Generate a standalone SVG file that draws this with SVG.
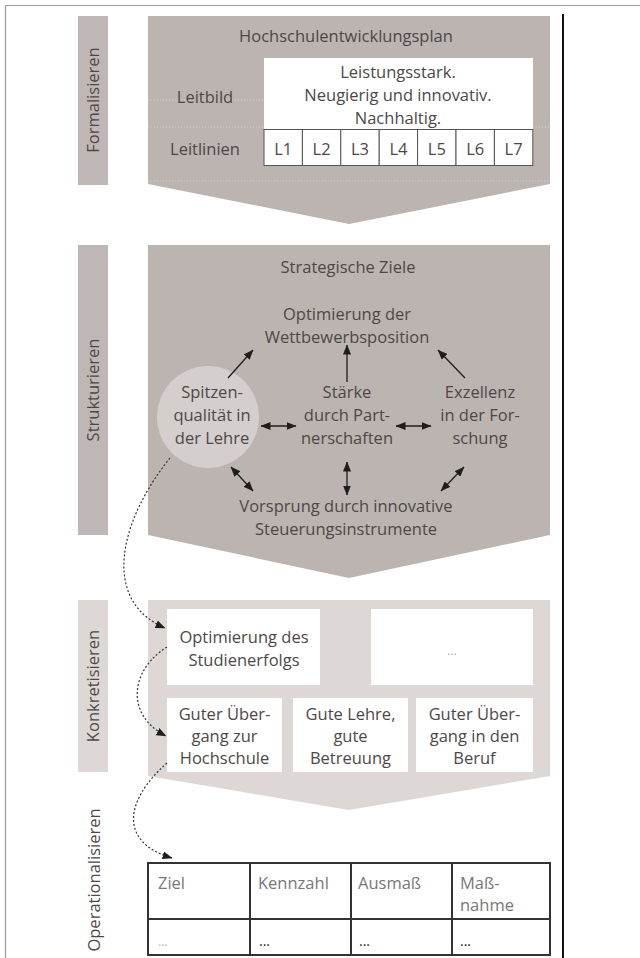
<svg xmlns="http://www.w3.org/2000/svg" width="640" height="958" viewBox="0 0 640 958">
<defs>
<marker id="ah" viewBox="0 0 10 8" refX="9.5" refY="4" markerWidth="10" markerHeight="8" markerUnits="userSpaceOnUse" orient="auto-start-reverse"><path d="M0,0 L10,4 L0,8 z" fill="#1e1e1e"/></marker>
</defs>
<style>
text{font-family:"Open Sans","Noto Sans","DejaVu Sans",sans-serif;font-size:16.5px;fill:#4d4848}
.c{text-anchor:middle}
.bar{fill:#bfb7b5}
.chev{fill:#bcb4b1}
.light{fill:#ddd8d6}
.box{fill:#fff}
.lbox{fill:#fff;stroke:#555;stroke-width:1}
.arr{stroke:#1e1e1e;stroke-width:1.3;fill:none}
.dot{stroke:#333;stroke-width:1.2;fill:none;stroke-dasharray:2 2}
.grid{stroke:#d6d0ce;stroke-width:1;stroke-dasharray:1 2;fill:none}
.tbl{stroke:#333;stroke-width:2;fill:none}
.th{fill:#7a7676}
</style>
<g id="frame">
<path d="M5.5,958 V5.5 H640" fill="none" stroke="#9a9a9a" stroke-width="1.2"/>
<line x1="563" y1="14" x2="563" y2="958" stroke="#111" stroke-width="2"/>
</g>
<g id="label-formalisieren">
<rect class="bar" x="78" y="16" width="30" height="169"/>
<text class="c" transform="translate(99,100) rotate(-90)">Formalisieren</text>
</g>
<g id="hochschulentwicklungsplan">
<path class="chev" d="M148,16 H550 V184 L349,224 L148,184 Z"/>
<path class="grid" d="M148,100 H264 M148,127 H264 M533,127 H550 M148,181 H550"/>
<text class="c" x="346" y="42">Hochschulentwicklungsplan</text>
<text class="c" x="205" y="103">Leitbild</text>
<text class="c" x="205" y="155">Leitlinien</text>
</g>
<g id="leitbild">
<rect class="box" x="264" y="58" width="269" height="71"/>
<text class="c" x="398" y="78">Leistungsstark.</text>
<text class="c" x="398" y="101">Neugierig und innovativ.</text>
<text class="c" x="398" y="124">Nachhaltig.</text>
</g>
<g id="leitlinien">
<rect class="lbox" x="264" y="129.5" width="38.4" height="36"/>
<rect class="lbox" x="302.4" y="129.5" width="38.4" height="36"/>
<rect class="lbox" x="340.8" y="129.5" width="38.4" height="36"/>
<rect class="lbox" x="379.2" y="129.5" width="38.4" height="36"/>
<rect class="lbox" x="417.6" y="129.5" width="38.4" height="36"/>
<rect class="lbox" x="456" y="129.5" width="38.4" height="36"/>
<rect class="lbox" x="494.4" y="129.5" width="38.4" height="36"/>
<text class="c" x="283.2" y="155">L1</text>
<text class="c" x="321.6" y="155">L2</text>
<text class="c" x="360" y="155">L3</text>
<text class="c" x="398.4" y="155">L4</text>
<text class="c" x="436.8" y="155">L5</text>
<text class="c" x="475.2" y="155">L6</text>
<text class="c" x="513.6" y="155">L7</text>
</g>
<g id="label-strukturieren">
<rect class="bar" x="78" y="245" width="30" height="290"/>
<text class="c" transform="translate(99,390) rotate(-90)">Strukturieren</text>
</g>
<g id="strategische-ziele">
<path class="chev" d="M148,245 H550 V535 L349,578 L148,535 Z"/>
<text class="c" x="348" y="273">Strategische Ziele</text>
</g>
<g id="wettbewerbsposition">
<text class="c" x="347" y="320">Optimierung der</text>
<text class="c" x="347" y="343">Wettbewerbsposition</text>
</g>
<g id="spitzenqualitaet">
<circle cx="208" cy="417" r="51" fill="#d4cecc"/>
<text class="c" x="212" y="398">Spitzen-</text>
<text class="c" x="212" y="421">qualität in</text>
<text class="c" x="212" y="444">der Lehre</text>
</g>
<g id="partnerschaften">
<text class="c" x="347" y="398">Stärke</text>
<text class="c" x="347" y="421">durch Part-</text>
<text class="c" x="347" y="444">nerschaften</text>
</g>
<g id="exzellenz">
<text class="c" x="480" y="398">Exzellenz</text>
<text class="c" x="480" y="421">in der For-</text>
<text class="c" x="480" y="444">schung</text>
</g>
<g id="vorsprung">
<text class="c" x="346" y="512">Vorsprung durch innovative</text>
<text class="c" x="346" y="535">Steuerungsinstrumente</text>
</g>
<g id="label-konkretisieren">
<rect class="light" x="78" y="600" width="30" height="172"/>
<text class="c" transform="translate(99,686) rotate(-90)">Konkretisieren</text>
</g>
<g id="konkretisieren">
<path class="light" d="M148,600 H550 V776 L349,810 L148,776 Z"/>
</g>
<g id="studienerfolg">
<rect class="box" x="167" y="609" width="153" height="76"/>
<text class="c" x="244" y="643">Optimierung des</text>
<text class="c" x="244" y="666">Studienerfolgs</text>
</g>
<g id="weitere">
<rect class="box" x="371" y="609" width="162" height="76"/>
<text class="c" x="452" y="655" style="fill:#aaa;font-size:12px">...</text>
</g>
<g id="uebergang-hochschule">
<rect class="box" x="167" y="698" width="115" height="74"/>
<text class="c" x="224.5" y="720">Guter Über-</text>
<text class="c" x="224.5" y="742">gang zur</text>
<text class="c" x="224.5" y="764">Hochschule</text>
</g>
<g id="gute-lehre">
<rect class="box" x="293" y="698" width="115" height="74"/>
<text class="c" x="350.5" y="720">Gute Lehre,</text>
<text class="c" x="350.5" y="742">gute</text>
<text class="c" x="350.5" y="764">Betreuung</text>
</g>
<g id="uebergang-beruf">
<rect class="box" x="416" y="698" width="117" height="74"/>
<text class="c" x="474.5" y="720">Guter Über-</text>
<text class="c" x="474.5" y="742">gang in den</text>
<text class="c" x="474.5" y="764">Beruf</text>
</g>
<g id="label-operationalisieren">
<text class="c" transform="translate(100,880) rotate(-90)">Operationalisieren</text>
</g>
<g id="tabelle">
<rect class="box" x="148" y="863" width="402" height="92"/>
<path class="tbl" d="M148,863 H550 V955 H148 Z M148,919 H550 M250,863 V955 M351,863 V955 M452,863 V955"/>
<text class="th" x="158" y="889">Ziel</text>
<text class="th" x="258" y="889">Kennzahl</text>
<text class="th" x="358" y="889">Ausmaß</text>
<text class="th" x="460" y="889">Maß-</text>
<text class="th" x="460" y="911">nahme</text>
<text x="158" y="946" style="fill:#aaa;font-size:12px">...</text>
<text x="259" y="946" style="fill:#222;font-size:14px">...</text>
<text x="359" y="946" style="fill:#222;font-size:14px">...</text>
<text x="460" y="946" style="fill:#222;font-size:14px">...</text>
</g>
<g id="connectors">
<line class="arr" x1="228" y1="378" x2="253" y2="350" marker-end="url(#ah)"/>
<line class="arr" x1="347" y1="382" x2="347" y2="345" marker-end="url(#ah)"/>
<line class="arr" x1="465" y1="378" x2="438" y2="350" marker-end="url(#ah)"/>
<line class="arr" x1="261" y1="426" x2="296" y2="426" marker-start="url(#ah)" marker-end="url(#ah)"/>
<line class="arr" x1="396" y1="426" x2="431" y2="426" marker-start="url(#ah)" marker-end="url(#ah)"/>
<line class="arr" x1="231" y1="467" x2="253" y2="491" marker-start="url(#ah)" marker-end="url(#ah)"/>
<line class="arr" x1="347" y1="462" x2="347" y2="495" marker-start="url(#ah)" marker-end="url(#ah)"/>
<line class="arr" x1="464" y1="467" x2="441" y2="491" marker-start="url(#ah)" marker-end="url(#ah)"/>
<path class="dot" d="M170,458 C120,520 100,600 165,628" marker-end="url(#ah)"/>
<path class="dot" d="M167,647 C130,670 125,715 166,736" marker-end="url(#ah)"/>
<path class="dot" d="M167,763 C125,800 118,842 172,858" marker-end="url(#ah)"/>
</g>
</svg>
